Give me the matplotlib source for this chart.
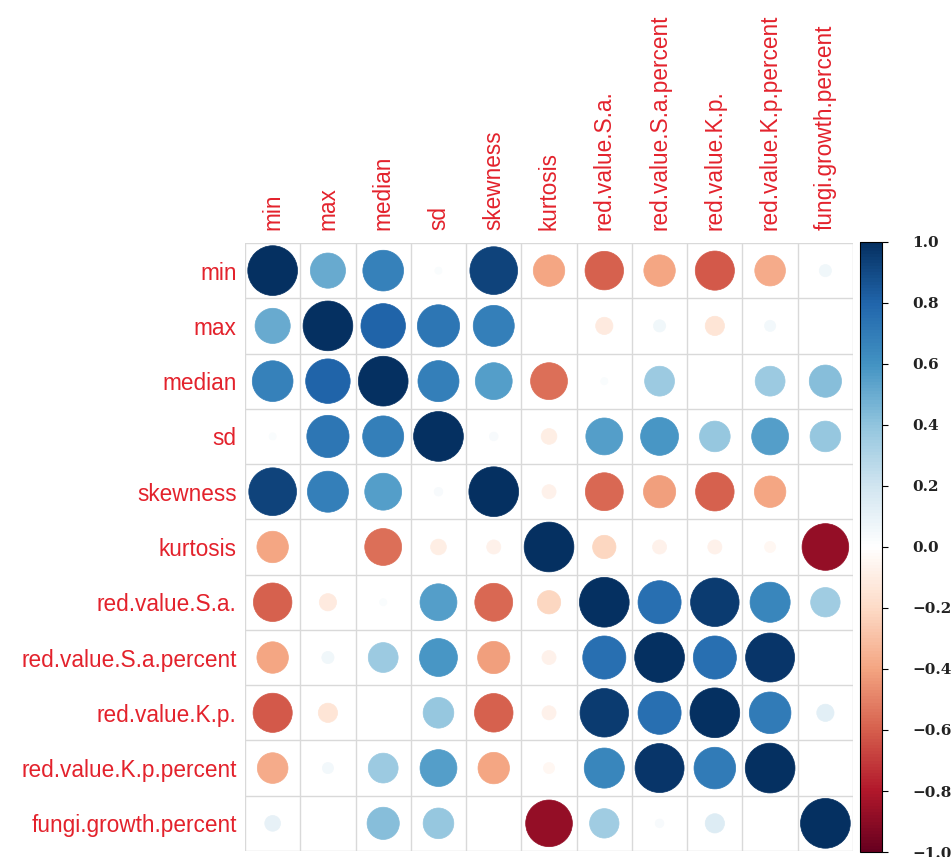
import numpy as np
import matplotlib.pyplot as plt
from matplotlib.colors import LinearSegmentedColormap, Normalize
from matplotlib.patches import Circle
from matplotlib.colorbar import ColorbarBase

# Variables in the correlation matrix
labels = ['min', 'max', 'median', 'sd', 'skewness', 'kurtosis',
          'red.value.S.a.', 'red.value.S.a.percent', 'red.value.K.p.',
          'red.value.K.p.percent', 'fungi.growth.percent']

# Correlation coefficients, one row per variable
r_min      = [1.00, 0.50, 0.67, 0.02, 0.92, -0.40, -0.60, -0.40, -0.62, -0.38, 0.06]
r_max      = [0.50, 1.00, 0.80, 0.72, 0.68, 0.00, -0.12, 0.06, -0.15, 0.05, 0.00]
r_median   = [0.67, 0.80, 1.00, 0.68, 0.55, -0.55, 0.02, 0.36, 0.00, 0.36, 0.42]
r_sd       = [0.02, 0.72, 0.68, 1.00, 0.03, -0.10, 0.55, 0.58, 0.38, 0.55, 0.38]
r_skewness = [0.92, 0.68, 0.55, 0.03, 1.00, -0.08, -0.58, -0.42, -0.60, -0.40, 0.00]
r_kurtosis = [-0.40, 0.00, -0.55, -0.10, -0.08, 1.00, -0.22, -0.08, -0.08, -0.05, -0.88]
r_sa       = [-0.60, -0.12, 0.02, 0.55, -0.58, -0.22, 1.00, 0.75, 0.95, 0.65, 0.35]
r_sa_pct   = [-0.40, 0.06, 0.36, 0.58, -0.42, -0.08, 0.75, 1.00, 0.75, 0.97, 0.00]
r_kp       = [-0.62, -0.15, 0.00, 0.38, -0.60, -0.08, 0.95, 0.75, 1.00, 0.70, 0.12]
r_kp_pct   = [-0.38, 0.05, 0.36, 0.55, -0.40, -0.05, 0.65, 0.97, 0.70, 1.00, 0.00]
r_fungi    = [0.10, 0.00, 0.42, 0.38, 0.00, -0.88, 0.35, 0.03, 0.15, 0.00, 1.00]

corr = np.array([r_min, r_max, r_median, r_sd, r_skewness, r_kurtosis,
                 r_sa, r_sa_pct, r_kp, r_kp_pct, r_fungi])

# RdBu palette as used by corrplot
palette = ["#67001F", "#B2182B", "#D6604D", "#F4A582", "#FDDBC7", "#FFFFFF",
           "#D1E5F0", "#92C5DE", "#4393C3", "#2166AC", "#053061"]
cmap = LinearSegmentedColormap.from_list('corr_rdbu', palette, N=200)
norm = Normalize(vmin=-1, vmax=1)

label_color = '#e3222c'
n = len(labels)

fig = plt.figure(figsize=(9.53, 8.57), dpi=100)
ax = fig.add_axes([0.2571, 0.007, 0.638, 0.7095])

# Grid cells
for k in range(n + 1):
    ax.axhline(k - 0.5, color='#d9d9d9', lw=1, zorder=1)
    ax.axvline(k - 0.5, color='#d9d9d9', lw=1, zorder=1)

# Circles: area proportional to |r|
for i in range(n):
    for j in range(n):
        v = corr[i, j]
        rad = 0.45 * np.sqrt(abs(v))
        if rad <= 0:
            continue
        c = cmap(norm(v))
        ax.add_patch(Circle((j, i), rad, facecolor=c, edgecolor=c, lw=0.5, zorder=2))

ax.set_xlim(-0.5, n - 0.5)
ax.set_ylim(n - 0.5, -0.5)
ax.set_aspect('equal')
for s in ax.spines.values():
    s.set_visible(False)

ax.set_yticks(range(n))
ax.set_yticklabels(labels, color=label_color, fontsize=16.3, family='Liberation Sans')
ax.xaxis.tick_top()
ax.set_xticks(range(n))
ax.set_xticklabels(labels, color=label_color, fontsize=16.3, family='Liberation Sans',
                   rotation=90, va='bottom')
ax.tick_params(axis='y', length=0, pad=6)
ax.tick_params(axis='x', length=0, pad=9)

# Colour legend
cax = fig.add_axes([0.9024, 0.0058, 0.023, 0.712])
cb = ColorbarBase(cax, cmap=cmap, norm=norm, ticks=np.arange(-1.0, 1.01, 0.2))
cb.outline.set_linewidth(0.8)
cb.set_ticklabels(['\u22121.0', '\u22120.8', '\u22120.6', '\u22120.4', '\u22120.2',
                   '0.0', '0.2', '0.4', '0.6', '0.8', '1.0'])
cax.tick_params(length=4, width=0.8, pad=18, labelsize=11)
for t in cax.get_yticklabels():
    t.set_family('DejaVu Serif')
    t.set_fontweight('bold')
    t.set_color('#222222')

plt.savefig('out.png', dpi=100)
